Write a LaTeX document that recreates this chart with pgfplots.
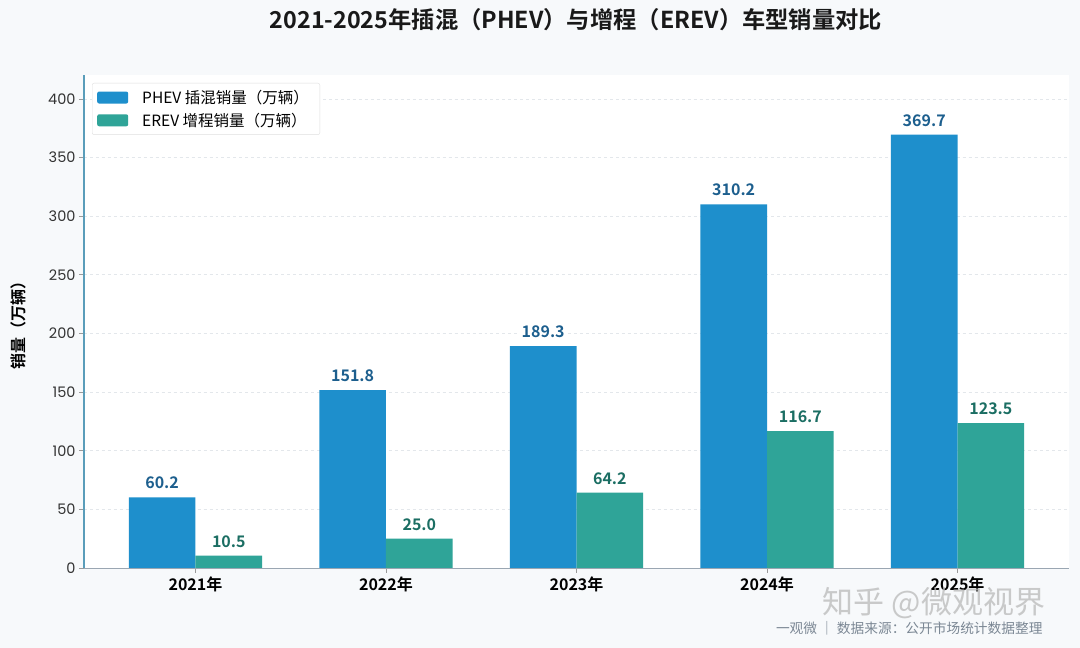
\documentclass[border=0pt]{standalone}
\usepackage{fontspec}
\setmainfont{Noto Sans CJK SC}[BoldFont={Noto Sans CJK SC Bold}]
\newfontfamily\pop{Poppins}
\usepackage{pgfplots}
\pgfplotsset{compat=1.18}
\definecolor{bg}{HTML}{F7F9FB}
\definecolor{phev}{HTML}{1E8FCC}
\definecolor{erev}{HTML}{2FA498}
\definecolor{phevtxt}{HTML}{1D5F8E}
\definecolor{erevtxt}{HTML}{1B6E63}
\definecolor{lspine}{HTML}{5A9DBA}
\definecolor{bspine}{HTML}{9AA6B2}
\definecolor{gridc}{HTML}{E3E7EB}
\definecolor{foot}{HTML}{7B8794}
\definecolor{tick}{HTML}{333333}
\begin{document}
\begin{tikzpicture}[x=1bp,y=1bp]
\fill[bg] (0,0) rectangle (1080,648);
\path[use as bounding box] (0,0) rectangle (1080,648);
\begin{axis}[
  at={(84bp,80bp)}, anchor=south west,
  scale only axis, width=985bp, height=493bp,
  xmin=-0.585, xmax=4.585, ymin=0, ymax=420.5,
  axis background/.style={fill=white},
  axis x line*=bottom, axis y line*=left,
  x axis line style={bspine, line width=0.9bp, -},
  y axis line style={lspine, line width=1.2bp, -},
  ybar=0pt, bar width=0.35,
  xtick={0,1,2,3,4},
  xticklabels={2021年,2022年,2023年,2024年,2025年},
  ytick={0,50,...,400},
  tick align=outside, major tick length=5bp,
  tick style={color=gray!80, line width=0.8bp},
  x tick label style={font=\bfseries\fontsize{16bp}{19bp}\selectfont, text=black},
  y tick label style={font=\pop\fontsize{14.5bp}{17bp}\selectfont, text=tick},
  /pgf/number format/assume math mode=true,
  ymajorgrids, grid style={gridc, dashed, line width=0.8bp},
  every axis y label/.style={at={(axis description cs:-0.067,0.5)}, rotate=90, anchor=center,
     font=\bfseries\fontsize{16bp}{19bp}\selectfont},
  ylabel={销量（万辆）},
  nodes near coords,
  nodes near coords style={/pgf/number format/.cd, fixed, fixed zerofill, precision=1, /tikz/.cd,
     font=\bfseries\fontsize{16bp}{19bp}\selectfont, fill=white, inner sep=2bp, anchor=south, yshift=6bp},
  legend style={at={(0,1)}, anchor=north west, xshift=8bp, yshift=-8bp,
     draw=gray!25, rounded corners=2bp, fill=white, inner xsep=5bp, inner ysep=5bp,
     font=\fontsize{15.5bp}{18bp}\selectfont, row sep=4bp,
     nodes={inner xsep=6bp}},
  legend cell align=left,
  legend image code/.code={\fill[#1] (0bp,-6bp) rectangle (31bp,6bp); \path (39bp,0bp);},
]
\addplot[fill=phev, draw=none, every node near coord/.append style={text=phevtxt}]
  coordinates {(0,60.2) (1,151.8) (2,189.3) (3,310.2) (4,369.7)};
\addplot[fill=erev, draw=none, every node near coord/.append style={text=erevtxt}]
  coordinates {(0,10.5) (1,25.0) (2,64.2) (3,116.7) (4,123.5)};
\legend{PHEV 插混销量（万辆）, EREV 增程销量（万辆）}
\end{axis}
\node[font=\bfseries\fontsize{23.3bp}{27bp}\selectfont, text=black!90] at (576,628) {2021-2025年插混（PHEV）与增程（EREV）车型销量对比};
\node[font=\fontsize{31bp}{34bp}\selectfont, text=gray!55, opacity=0.75] at (934,45) {知乎 @微观视界};
\node[font=\fontsize{13.7bp}{16bp}\selectfont, text=foot, anchor=east] at (1046,20) {一观微 ｜ 数据来源：公开市场统计数据整理};
\end{tikzpicture}
\end{document}
